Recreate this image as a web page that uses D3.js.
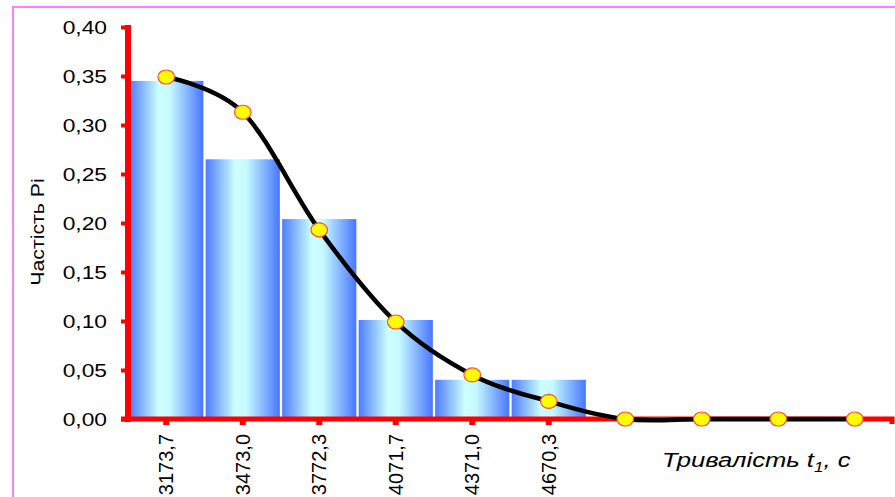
<!DOCTYPE html>
<html><head><meta charset="utf-8">
<script src="https://cdn.jsdelivr.net/npm/d3@7"></script>
<style>body{margin:0;background:#fff}svg{display:block}</style>
</head><body><svg id="c" width="895" height="497"></svg>
<script>
const categories = ["3173,7","3473,0","3772,3","4071,7","4371,0","4670,3","","","",""];
const frequency = [0.345,0.265,0.204,0.101,0.040,0.040,0,0,0,0];
const curveValues = [0.349,0.313,0.193,0.099,0.045,0.018,0,0,0,0];
const yTicks = [0,0.05,0.10,0.15,0.20,0.25,0.30,0.35,0.40];

const svg = d3.select("#c");
const defs = svg.append("defs");
const g = defs.append("linearGradient").attr("id","barGrad").attr("x1","0%").attr("x2","100%").attr("y1","0%").attr("y2","0%");
[[0,"#4d7cff"],[0.40,"#ccffff"],[0.55,"#c6faff"],[1,"#4876ff"]].forEach(s=>g.append("stop").attr("offset",s[0]).attr("stop-color",s[1]));

// pink frame
svg.append("rect").attr("x",13).attr("y",7).attr("width",900).attr("height",520)
  .attr("fill","none").attr("stroke","#ff80ff").attr("stroke-width",2);

const x = d3.scaleBand().domain(d3.range(categories.length)).range([128,893]).paddingInner(0.03).paddingOuter(0.015);
const y = d3.scaleLinear().domain([0,0.4]).range([419,27]);
const cx = i => x(i) + x.bandwidth()/2;

// bars
svg.append("g").selectAll("rect").data(frequency).join("rect")
  .attr("x",(d,i)=>x(i)).attr("width",x.bandwidth())
  .attr("y",d=>y(d)).attr("height",d=>y(0)-y(d))
  .attr("fill","url(#barGrad)");

// y axis
const yAxis = svg.append("g").attr("transform","translate(128,0)")
  .call(d3.axisLeft(y).tickValues(yTicks).tickSize(7).tickSizeOuter(0).tickFormat(d=>d3.format(".2f")(d).replace(".",",")));
yAxis.select(".domain").attr("stroke","#ff0000").attr("stroke-width",6).attr("d","M0,25V422");
yAxis.selectAll(".tick line").attr("stroke","#ff0000").attr("stroke-width",4);
yAxis.selectAll(".tick text").attr("fill","#000").attr("font-family","Arial, 'Liberation Sans', sans-serif")
  .attr("font-size",19).attr("x",0).attr("dy","0.35em")
  .attr("transform","translate(-21,0) scale(1.2,1)").attr("text-anchor","end");

// x axis
const xAxis = svg.append("g").attr("transform","translate(0,419)");
xAxis.append("path").attr("d","M121,0H892V5").attr("fill","none").attr("stroke","#ff0000").attr("stroke-width",5);
xAxis.selectAll("rect.tk").data(categories).join("rect").attr("class","tk")
  .attr("x",(d,i)=>cx(i)-3).attr("y",2).attr("width",6).attr("height",4).attr("fill","#ff0000");
xAxis.selectAll("text").data(categories).join("text")
  .attr("transform",(d,i)=>`translate(${cx(i)+7},15) rotate(-90)`)
  .attr("text-anchor","end").attr("font-family","Arial, 'Liberation Sans', sans-serif")
  .attr("font-size",20).attr("fill","#000").text(d=>d);

// smoothed line
const line = d3.line().x((d,i)=>cx(i)).y(d=>y(d)).curve(d3.curveCardinal.tension(0));
svg.append("path").datum(curveValues).attr("d",line).attr("fill","none")
  .attr("stroke","#000").attr("stroke-width",4.5);
svg.append("g").selectAll("ellipse").data(curveValues).join("ellipse")
  .attr("cx",(d,i)=>cx(i)).attr("cy",d=>y(d)).attr("rx",8.3).attr("ry",7)
  .attr("fill","#ffff00").attr("stroke","#ff5030").attr("stroke-width",1.2);

// titles
svg.append("text").attr("transform","translate(44,232) rotate(-90) scale(1.12,1)").attr("text-anchor","middle")
  .attr("font-family","Arial, 'Liberation Sans', sans-serif").attr("font-size",19).attr("fill","#000")
  .text("Частість Pi");
const xt = svg.append("text").attr("transform","translate(662,467) scale(1.22,1)")
  .attr("font-family","Arial, 'Liberation Sans', sans-serif").attr("font-size",21).attr("font-style","italic").attr("fill","#000");
xt.append("tspan").text("Тривалість t");
xt.append("tspan").attr("font-size",14).attr("dy",5).text("1");
xt.append("tspan").attr("dy",-5).text(", с");
</script></body></html>
